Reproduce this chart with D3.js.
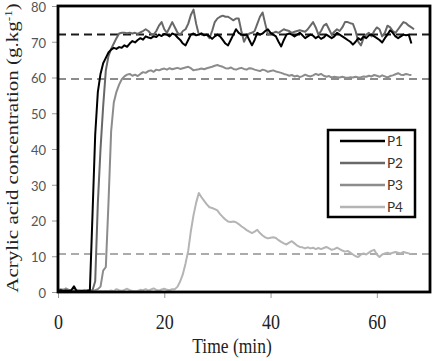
<!DOCTYPE html>
<html>
<head>
<meta charset="utf-8">
<script src="https://cdn.jsdelivr.net/npm/d3@7"></script>
<style>
  html, body { margin: 0; padding: 0; background: #fff; }
  svg { display: block; }
</style>
</head>
<body>
<svg id="chart" width="433" height="361"></svg>
<script>
// ---- data ----
const seriesNames = ["P1", "P2", "P3", "P4"];
const xTicks = [0, 20, 40, 60];
const yTicks = [0, 10, 20, 30, 40, 50, 60, 70, 80];
const referenceLevels = [72, 59.6, 10.6];   // dashed horizontal lines

const times = [0,0.5,1,1.5,2,2.5,3,3.5,4,4.5,5,5.5,6,6.5,7,7.5,8,8.5,9,9.5,10,10.5,11,11.5,12,12.5,13,13.5,14,14.5,15,15.5,16,16.5,17,17.5,18,18.5,19,19.5,20,20.5,21,21.5,22,22.5,23,23.5,24,24.5,25,25.5,26,26.5,27,27.5,28,28.5,29,29.5,30,30.5,31,31.5,32,32.5,33,33.5,34,34.5,35,35.5,36,36.5,37,37.5,38,38.5,39,39.5,40,40.5,41,41.5,42,42.5,43,43.5,44,44.5,45,45.5,46,46.5,47,47.5,48,48.5,49,49.5,50,50.5,51,51.5,52,52.5,53,53.5,54,54.5,55,55.5,56,56.5,57,57.5,58,58.5,59,59.5,60,60.5,61,61.5,62,62.5,63,63.5,64,64.5,65,65.5,66,66.5,67];

const p1Values = [0.3,0.5,0.2,0.4,0.3,0.5,1.6,0.3,0.2,0.3,0.2,0.3,0.5,22,44,56,61,64,65.5,67,67.8,68.3,68,68.5,68.3,69,68.6,69.5,70.2,69.8,70.5,71,70.6,71.5,71.2,71,71.5,71.3,72,71.6,72.2,72,71.5,72.3,72,71.2,70.5,69.5,69,70.5,72,72.3,71.8,72,72.3,71.8,72,71.5,70.8,71.5,72,71.5,70.5,69.5,69,70.5,72,73.5,72.5,72,71.8,72,70.5,69,70.5,72.5,72,72.3,73,73.5,72.5,72,71.5,70,68.7,70.5,72,72.3,72,71.5,72,72.5,71.8,71,71.5,72,71.7,71,71.5,70.8,71.2,72,71.5,71,71.5,72.5,72,71.5,71,70.5,70,69.2,70,71,70.5,71.5,71,71.8,72,71.5,71,70.5,69.8,71,72,73.2,72.5,71.5,71,71.5,72,71.8,72,69.5];

const p2Values = [0.2,0.3,0.5,0.2,0.4,0.2,0.3,0.5,0.2,0.3,0.2,0.4,0.3,0.5,3,25,40,52,62,66,68,69.5,71,72.3,72.5,72.5,72.4,72.5,72.3,72.5,72.2,72.6,73,73.5,73,72.2,72,73,74.5,75.5,73.5,72.5,74,75.5,74,72.5,72,73,73.5,75,77.5,79,75,72,72.3,72,72,71,73,75.5,76.5,77,77.3,77,77,76.5,76,76.5,76.5,73,70,71.5,72.3,72.5,73,75,77,78.2,75,72,72.3,72.5,72.8,72.5,73,73.5,73.2,73,72.5,72.8,73,73.2,73,72.8,73.5,74.5,75.5,74,72,73,74.5,75,73.5,72,72.8,73.5,73,74,75.5,75.5,75.2,75,73,70,69,71,72,72.5,71.5,73,74,73.5,71.5,72.5,74.5,74,73,72.5,73.5,74.5,75.5,75.2,74.5,74,73.5];

const p3Values = [0.5,0.8,0.5,1,0.6,0.4,0.5,0.3,0.5,0.4,0.6,0.4,0.5,0.3,0.5,0.8,1.5,6,7,25,45,53,56,58,59.5,60.3,60.8,61,60.5,60.8,60.4,61,61.5,61.3,61.8,62,61.6,62.2,62,62.3,62.5,62.2,62.6,62.3,62.5,62.7,62.4,62.6,62.8,63,62.6,62,62.2,62.3,62.5,62.3,62.6,62.8,63,63.3,63.5,63.2,63,62.6,62.5,62.8,62.4,62.2,62.5,62.7,62.4,62.2,62.6,62.5,62.2,62,61.8,62.2,62,61.6,61.8,62,61.7,61.5,61.3,61,60.8,60.5,60.7,60.3,60.5,60.1,60.4,60.8,60.5,60.3,60.6,61,60.7,61,60.5,60.2,60.4,60,60.2,60.1,60,60.2,60,59.9,60.1,60,60.2,60,60.1,60.3,60.2,60.5,60.3,60.7,60.5,60.2,60.6,60.3,60,60.4,60.6,60.9,61.2,60.8,60.7,61,60.8,60.7];

const p4Values = [0.3,0.5,0.8,0.4,0.6,0.3,0.2,0.4,0.2,0.3,0.2,0.4,0.3,0.2,0.3,0.2,0.3,0.2,0.3,0.2,0.4,0.2,0.8,0.5,0.3,0.6,0.9,0.5,0.3,0.2,0.3,0.6,0.5,0.8,0.4,0.7,1,0.6,0.4,0.7,0.9,0.6,0.5,0.8,0.8,1.5,3,5,8,11.5,17,21.5,25,27.7,26.5,25.5,24.5,23.7,23.5,23.2,22.8,21.8,21,20.3,19.7,19.6,19.7,19.5,19,18.4,17.9,17.3,16.9,16.5,16.9,17.4,16.5,15.8,15.3,15,15.2,15.3,15.1,14.5,14,13.6,13.3,13.8,14.2,13.6,13,12.6,12.5,12.2,12.5,12.2,12.4,12,12.3,12,12.3,12.6,12.2,11.8,12,12.4,12,11.6,11.3,11.5,11,10.5,10,9.8,10.5,10.8,10.5,11,11.5,11.8,10.5,9.8,10.5,10.8,11,10.7,11,11.2,11,10.8,11.2,11,10.8,10.6];

const seriesValues = [p1Values, p2Values, p3Values, p4Values];
const seriesColors = ["#000000", "#686868", "#8c8c8c", "#b4b4b4"];
const levelColors = ["#1a1a1a", "#8c8c8c", "#ababab"];

// ---- layout ----
const svg = d3.select("#chart");
const plot = { left: 58, right: 430, top: 6, bottom: 292 };

const x = d3.scaleLinear().domain([0, 70]).range([plot.left, plot.right]);
const y = d3.scaleLinear().domain([0, 80]).range([plot.bottom, plot.top]);

// y axis ticks and labels
const yAxis = d3.axisLeft(y).tickValues(yTicks).tickSize(5).tickPadding(6).tickFormat(d3.format("d"));
const gy = svg.append("g").attr("transform", `translate(${plot.left - 1},0)`).call(yAxis);
gy.select(".domain").remove();
gy.selectAll(".tick line").attr("stroke", "#9a9a9a").attr("stroke-width", 1);
gy.selectAll(".tick text")
  .attr("dy", "0.42em")
  .attr("fill", "#555")
  .style("font-family", "Lato, 'Open Sans', sans-serif")
  .style("font-size", "13px");

// x axis ticks and labels
const xAxis = d3.axisBottom(x).tickValues(xTicks).tickSize(5).tickFormat(d3.format("d"));
const gx = svg.append("g").attr("transform", `translate(0,${plot.bottom + 1})`).call(xAxis);
gx.select(".domain").remove();
gx.selectAll(".tick line").attr("stroke", "#9a9a9a").attr("stroke-width", 1);
gx.selectAll(".tick text").remove();
gx.selectAll(".tick").append("text")
  .attr("transform", "translate(0,36) scale(1,1.22)")
  .attr("text-anchor", "middle")
  .attr("fill", "#222")
  .style("font-family", "'Liberation Serif', 'Times New Roman', serif")
  .style("font-size", "18px")
  .text(d => d);

// dashed reference lines
svg.append("g").selectAll("line")
  .data(referenceLevels)
  .join("line")
  .attr("x1", plot.left).attr("x2", plot.right)
  .attr("y1", d => y(d)).attr("y2", d => y(d))
  .attr("stroke", (d, i) => levelColors[i])
  .attr("stroke-width", 2)
  .attr("stroke-dasharray", "8,5");

// series lines
const line = d3.line()
  .x((d, i) => x(times[i]))
  .y(d => y(d));

svg.append("g").selectAll("path")
  .data(seriesValues.map((v, i) => ({ values: v, i })).reverse())
  .join("path")
  .attr("d", d => line(d.values))
  .attr("fill", "none")
  .attr("stroke", d => seriesColors[d.i])
  .attr("stroke-width", 2)
  .attr("stroke-linejoin", "round");

// plot frame
svg.append("rect")
  .attr("x", plot.left).attr("y", plot.top)
  .attr("width", plot.right - plot.left).attr("height", plot.bottom - plot.top)
  .attr("fill", "none").attr("stroke", "#000").attr("stroke-width", 2.8);

// legend
const legend = svg.append("g");
legend.append("rect")
  .attr("x", 328).attr("y", 130).attr("width", 87).attr("height", 87)
  .attr("fill", "#fff").attr("stroke", "#000").attr("stroke-width", 2.5);
const rows = legend.selectAll("g.row").data(seriesNames).join("g")
  .attr("class", "row")
  .attr("transform", (d, i) => `translate(0,${141 + i * 22})`);
rows.append("line")
  .attr("x1", 340).attr("x2", 385)
  .attr("stroke", (d, i) => seriesColors[i])
  .attr("stroke-width", 2.5);
rows.append("text")
  .attr("x", 387).attr("y", 5)
  .attr("fill", "#333")
  .style("font-family", "Lato, 'Open Sans', sans-serif")
  .style("font-size", "13.5px")
  .text(d => d);

// axis titles
svg.append("text")
  .attr("transform", "translate(232,353) scale(1,1.2)")
  .attr("text-anchor", "middle")
  .attr("fill", "#222")
  .style("font-family", "'Liberation Serif', 'Times New Roman', serif")
  .style("font-size", "17.5px")
  .text("Time (min)");

const yTitle = svg.append("text")
  .attr("transform", "translate(18,148) scale(1,1.2) rotate(-90)")
  .attr("text-anchor", "middle")
  .attr("fill", "#222")
  .style("font-family", "'Liberation Serif', 'Times New Roman', serif")
  .style("font-size", "17.5px");
yTitle.append("tspan").text("Acrylic acid concentration (g.kg");
yTitle.append("tspan").attr("dy", -6).style("font-size", "11px").text("-1");
yTitle.append("tspan").attr("dy", 6).text(")");
</script>
</body>
</html>
